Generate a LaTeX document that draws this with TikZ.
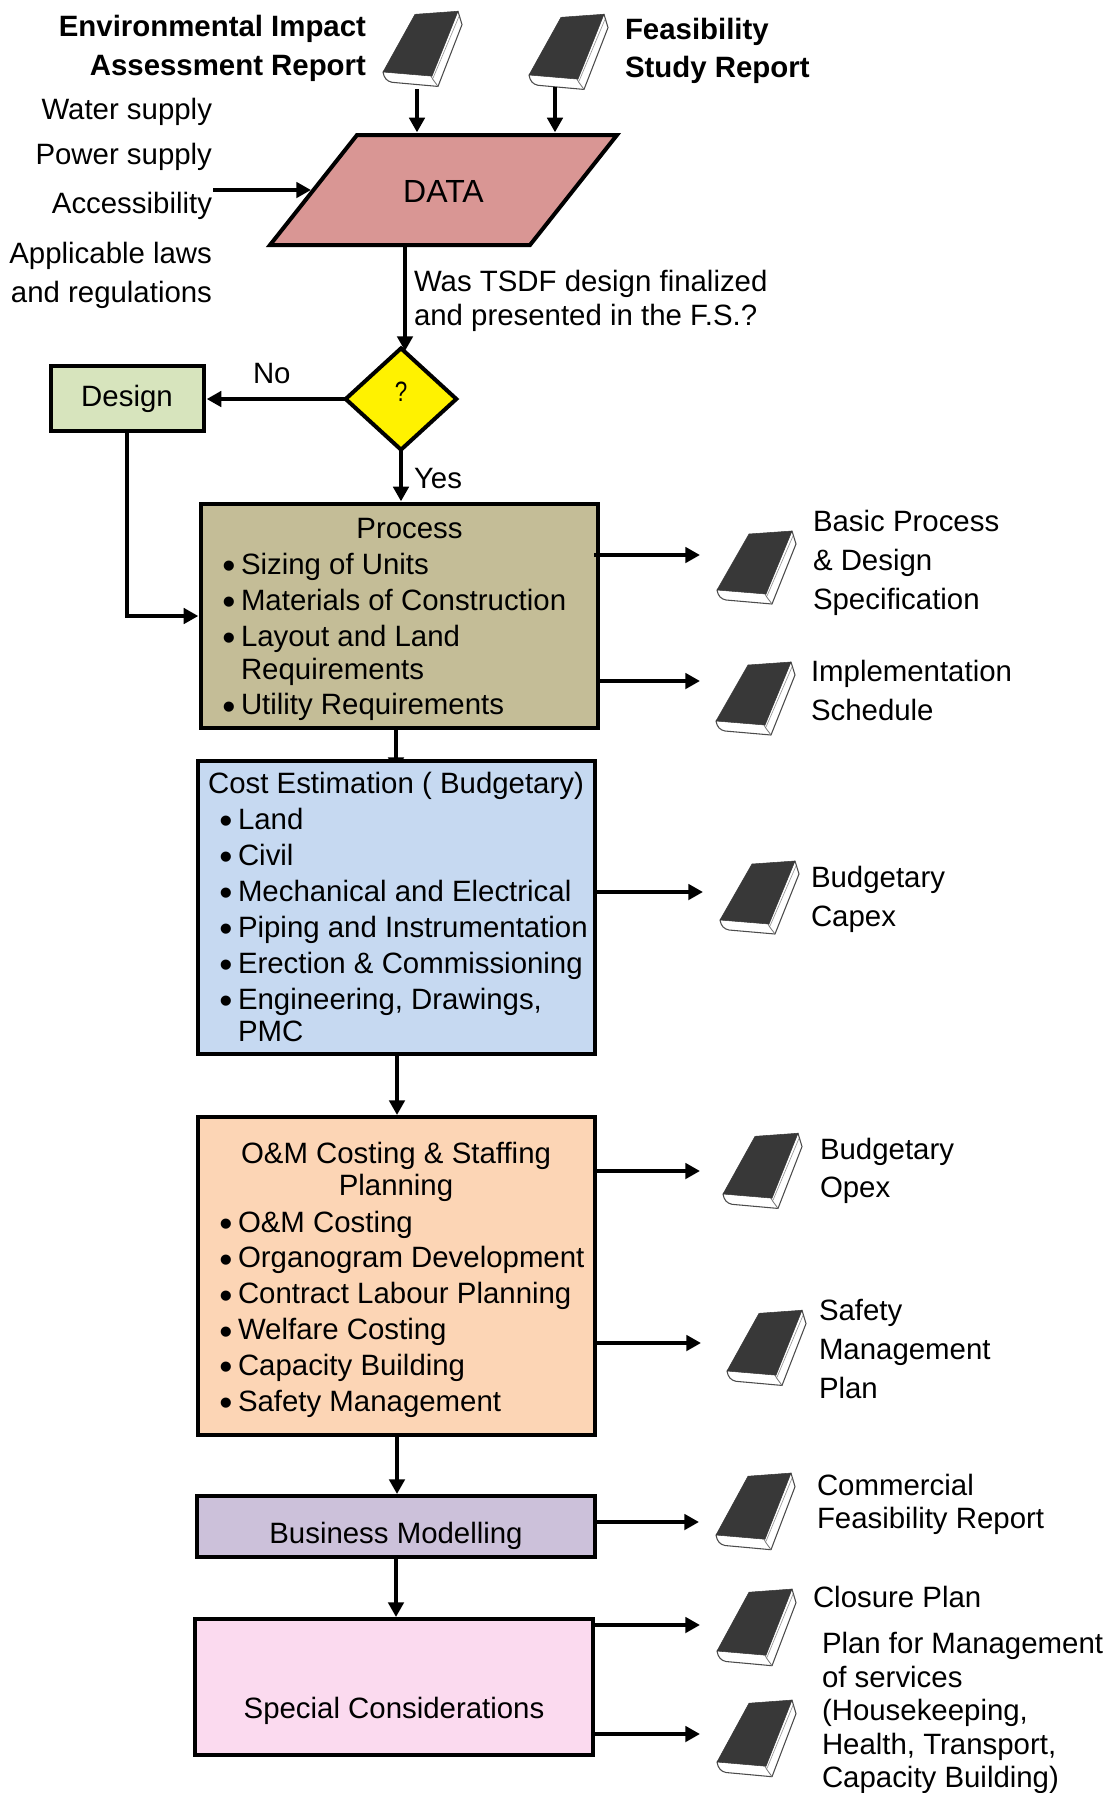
\documentclass[tikz,border=0pt]{standalone}
\usepackage{fontspec}
\setmainfont{Liberation Sans}
\usetikzlibrary{arrows.meta,shapes.geometric}
\newcommand{\bu}{\makebox[13.5pt][l]{\hspace*{-0.4pt}\fontsize{28}{27}\selectfont\raisebox{-3.3pt}{\textbullet}}}
\newcommand{\tfs}{\fontsize{22.05}{27}\selectfont}
\tikzset{
  x=0.75pt,y=-0.75pt,
  every node/.append style={font=\tfs,inner sep=0pt,outer sep=0pt},
  arr/.style={draw=black,line width=3pt,-{Triangle[length=11pt,width=11.5pt]}},
  tobox/.style={shorten >=2pt},
  boxx/.style={draw=black,line width=3pt},
  lbl/.style={align=left,anchor=north west},
  lblr/.style={align=right,anchor=north east},
  lblb/.style={align=left,anchor=north west,font=\tfs\bfseries},
  lblbr/.style={align=right,anchor=north east,font=\tfs\bfseries},
  bookpic/.pic={
    \draw[draw=black!70,fill=white,line width=0.8pt,line join=round]
      (0,0) .. controls (1,6) and (4,9) .. (9,10) -- (55,14) -- (79,-46) -- (75,-59) -- cycle;
    \draw[draw=black!55,line width=0.6pt] (48,4) .. controls (50,8) and (53,11) .. (55,14);
    \draw[draw=black!40,line width=0.5pt] (50,6) -- (76,-54);
    \fill[fill=black!78,draw=black!78,line width=0.4pt,line join=round]
      (0,0) -- (32,-56) -- (75,-59) -- (49,4) -- cycle;
  }
}
\newcommand{\bx}[6]{\node[boxx,fill=#6,minimum width={(#4-#2)*0.75pt},minimum height={(#5-#3)*0.75pt}] (#1) at ({(#2+#4)/2},{(#3+#5)/2}) {};}
\newcommand{\bk}[4]{\coordinate (#1) at (#2,#3); \pic[yscale=#4] at (#1) {bookpic};}
\newcommand{\tl}[5][lbl]{\node[#1] (#2) at (#3,{#4-25.2}) {\strut #5};}
\begin{document}
\begin{tikzpicture}
\useasboundingbox (0,0) rectangle (1118,1793);
\definecolor{cdata}{HTML}{D99694}
\definecolor{cdes}{HTML}{D7E4BD}
\definecolor{cproc}{HTML}{C4BD97}
\definecolor{ccost}{HTML}{C6D9F1}
\definecolor{comc}{HTML}{FCD5B5}
\definecolor{cbus}{HTML}{CCC1DA}
\definecolor{cspec}{HTML}{FBDAEF}
% boxes
\node[minimum width=260.25pt,minimum height=82.5pt] (data) at (443.5,190) {};
\draw[boxx,fill=cdata,line join=miter] ([xshift=65.25pt]data.north west) -- (data.north east) -- ([xshift=-65.25pt]data.south east) -- (data.south west) -- cycle;
\bx{design}{50.5}{365.5}{204}{430.5}{cdes}
\node[boxx,fill=yellow,diamond,minimum width=83pt,minimum height=76pt] (dec) at (401,399) {};
\bx{proc}{201}{504}{598}{728}{cproc}
\draw[arr] (proc.south-|396,0) -- (396,772);
\bx{cost}{198}{761}{595}{1054}{ccost}
\bx{om}{198}{1117}{595}{1435}{comc}
\bx{bus}{197}{1496}{595}{1557}{cbus}
\bx{spec}{195}{1619}{593}{1755}{cspec}
% books
\bk{b1}{383}{72}{1.03}
\bk{b2}{529}{75}{1.03}
\bk{b3}{717}{590}{1}
\bk{b4}{716}{721}{1}
\bk{b5}{720}{920}{1}
\bk{b6}{723}{1194}{1.03}
\bk{b7}{727}{1371}{1.03}
\bk{b8}{716}{1535}{1.05}
\bk{b9}{717}{1651}{1.05}
\bk{b10}{717}{1762}{1.05}
% free ends
\coordinate (c1) at (417,89);
\coordinate (c2) at (555,87);
\coordinate (c3) at (700,555);
\coordinate (c4) at (700,681);
\coordinate (c5) at (703,892);
\coordinate (c6) at (700,1171);
\coordinate (c7) at (701,1343);
\coordinate (c8) at (699,1522);
\coordinate (c9) at (700,1625);
\coordinate (c10) at (700,1734);
\coordinate (c11) at (213,190);
% connectors
\draw[arr,tobox] (c1) -- (c1|-data.north);
\draw[arr,tobox] (c2) -- (c2|-data.north);
\draw[arr] (c11) -- ++(98,0);
\draw[arr] (405,245) -- (405,351);
\draw[arr,tobox] (dec.west) -- (design.east|-dec.west);
\draw[arr,tobox] (dec.south) -- (dec.south|-proc.north);
\draw[arr,tobox] (design.south) |- (proc.west|-0,616);
\draw[arr] (397,1054) -- (397,1115);
\draw[arr] (397,1435) -- (397,1494);
\draw[arr] (396,1557) -- (396,1617);
\draw[arr] (594,555) -- (c3);
\draw[arr] (proc.east|-c4) -- (c4);
\draw[arr] (cost.east|-c5) -- (c5);
\draw[arr] (om.east|-c6) -- (c6);
\draw[arr] (om.east|-c7) -- (c7);
\draw[arr] (bus.east|-c8) -- (c8);
\draw[arr] (spec.east|-c9) -- (c9);
\draw[arr] (spec.east|-c10) -- (c10);
% labels top
\tl[lblbr]{t1}{366}{36}{Environmental Impact\\[2.7pt]Assessment Report}
\tl[lblb]{t2}{625}{39}{Feasibility\\[1.7pt]Study Report}
\tl[lblr]{t3}{212}{119}{Water supply}
\tl[lblr]{t4}{212}{164}{Power supply}
\tl[lblr]{t5}{212}{213}{Accessibility}
\tl[lblr]{t6}{212}{263}{Applicable laws\\[2.5pt]and regulations}
\node[font=\fontsize{24}{27}\selectfont] (t7) at (443.5,191) {DATA};
\tl{t8}{414}{291}{Was TSDF design finalized\\[-0.8pt]and presented in the F.S.?}
\tl{t9}{253}{383}{No}
\node[font=\fontsize{21}{24}\selectfont] (t10) at (401,392) {\scalebox{0.8}[1]{?}};
\node (t11) at (127,399) {Design};
\tl{t12}{414}{488}{Yes}
% process
\node (p0) at (409.5,531) {\strut Process};
\tl{p1}{223}{574}{\bu Sizing of Units\\[0pt]\bu Materials of Construction\\[0.4pt]\bu Layout and Land\\[-2.25pt]\hspace*{13.5pt}Requirements\\[-0.6pt]\bu Utility Requirements}
% cost
\node (c0) at (396,786) {\strut Cost Estimation ( Budgetary)};
\tl{cc}{220}{829.5}{\bu Land\\\bu Civil\\\bu Mechanical and Electrical\\\bu Piping and Instrumentation\\\bu Erection \& Commissioning\\\bu Engineering, Drawings,\\[-3pt]\hspace*{13.5pt}PMC}
% O&M
\node[align=center] (o0) at (396,1172) {O\&M Costing \& Staffing\\[-2.7pt]Planning};
\tl{oo}{220}{1232}{\bu O\&M Costing\\[-0.1pt]\bu Organogram Development\\[-0.1pt]\bu Contract Labour Planning\\[-0.1pt]\bu Welfare Costing\\[-0.1pt]\bu Capacity Building\\[-0.1pt]\bu Safety Management}
\node (bt) at (396,1536) {Business Modelling};
\node (st) at (394,1711) {Special Considerations};
% right
\tl{r3}{813}{531}{Basic Process\\[2.6pt]\& Design\\[2.6pt]Specification}
\tl{r4}{811}{681}{Implementation\\[2.9pt]Schedule}
\tl{r5}{811}{887}{Budgetary\\[2.9pt]Capex}
\tl{r6}{820}{1159}{Budgetary\\[2.2pt]Opex}
\tl{r7}{819}{1320}{Safety\\[2.6pt]Management\\[2.6pt]Plan}
\tl{r8}{817}{1495}{Commercial\\[-2pt]Feasibility Report}
\tl{r9}{813}{1607}{Closure Plan}
\tl{r10}{822}{1653}{Plan for Management\\[-0.9pt]of services\\[-2.2pt](Housekeeping,\\[-2pt]Health, Transport,\\[-2pt]Capacity Building)}
\end{tikzpicture}
\end{document}
